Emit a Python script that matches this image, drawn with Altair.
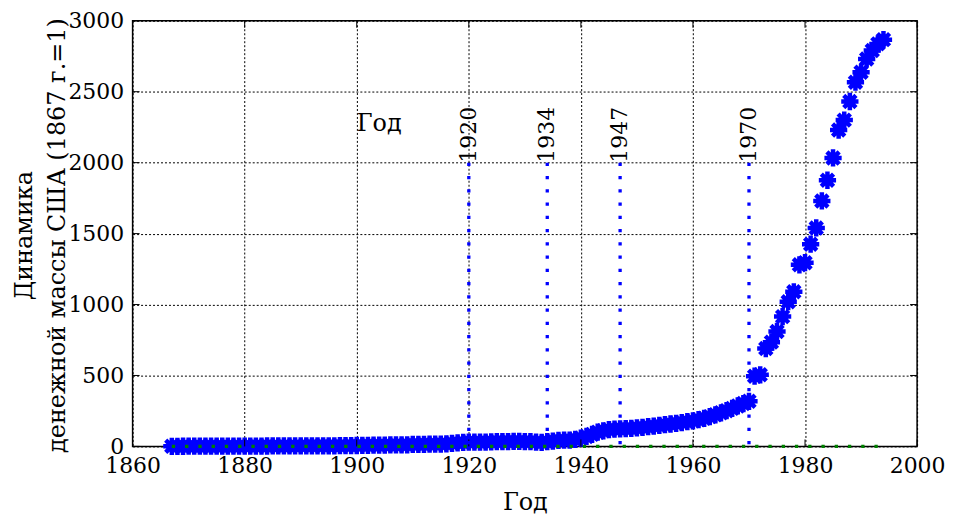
import altair as alt
import pandas as pd

# ---------------- data ----------------
years = list(range(1867, 1995))
money = [
    1, 1.1, 1.2, 1.3, 1.4, 1.5, 1.6, 1.6, 1.7, 1.7, 1.8, 1.8, 1.9,          # 1867-1879
    2.1, 2.4, 2.6, 2.8, 2.9, 3.0, 3.2, 3.4, 3.5, 3.7,                      # 1880-1889
    3.9, 4.1, 4.4, 4.3, 4.3, 4.5, 4.6, 4.9, 5.4, 6.0,                      # 1890-1899
    6.5, 7.2, 7.8, 8.3, 8.6, 9.3, 10.1, 10.6, 10.8, 11.6,                  # 1900-1909
    14, 14.5, 15, 15.5, 16, 16.5, 18, 22, 25, 28,                          # 1910-1919
    31, 30, 30, 31, 32, 33, 34, 34, 35, 35,                                # 1920-1929
    34, 33, 30, 28, 33, 38, 42, 44, 45, 50,                                # 1930-1939
    58, 70, 85, 100, 110, 118, 122, 124, 125, 127,                         # 1940-1949
    130, 134, 139, 143, 148, 153, 158, 163, 168, 174,                      # 1950-1959
    180, 188, 198, 210, 223, 237, 252, 268, 285, 302,                      # 1960-1969
    318, 495, 505, 690, 735, 810, 915, 1020, 1090, 1280,                   # 1970-1979
    1295, 1425, 1540, 1730, 1876, 2033, 2230, 2300, 2431, 2567,            # 1980-1989
    2637, 2731, 2790, 2837, 2867,                                          # 1990-1994
]
event_years = [1920, 1934, 1947, 1970]
event_labels = ["1920", "1934", "1947", "1970"]
event_top = 2000
base_value = 1
x_ticks = [1860, 1880, 1900, 1920, 1940, 1960, 1980, 2000]
y_ticks = [0, 500, 1000, 1500, 2000, 2500, 3000]
x_title = "Год"
y_title = ["Динамика", "денежной массы США (1867 г.=1)"]
annot_text = ["Год"]
annot_year = [1900]
annot_value = [2225]

# ---------------- styling ----------------
FONT = "DejaVu Serif"
W, H = 787, 427
BLUE = "#0000ff"
GREEN = "#008000"
ASTER = "M0,-1L0,1M-1,0L1,0M-0.71,-0.71L0.71,0.71M-0.71,0.71L0.71,-0.71"

df = pd.DataFrame({"year": years, "value": money})
ev = pd.DataFrame({"year": event_years, "top": [event_top] * len(event_years),
                   "bottom": [0] * len(event_years), "label": event_labels})
base_df = pd.DataFrame({"year": [years[0], years[-1]], "value": [base_value, base_value]})
ann = pd.DataFrame({"year": annot_year, "value": annot_value, "text": annot_text})
xt = pd.DataFrame({"t": x_ticks})
yt = pd.DataFrame({"t": y_ticks})

xs = alt.Scale(domain=[1860, 2000], nice=False, zero=False)
ys = alt.Scale(domain=[0, 3000], nice=False)

xaxis = alt.Axis(values=x_ticks, format="d", title=x_title, grid=True, ticks=False,
                 domain=False, labelFlush=False, labelFontSize=22, labelFont=FONT,
                 labelColor="black", labelPadding=9, titleFont=FONT, titleFontSize=24,
                 titleFontWeight="normal", titleColor="black", titleY=63,
                 titleBaseline="alphabetic")
yaxis = alt.Axis(values=y_ticks, format="d", title=y_title, grid=True, ticks=False,
                 domain=False, labelFlush=False, labelFontSize=22, labelFont=FONT,
                 labelColor="black", labelPadding=9, titleFont=FONT, titleFontSize=24,
                 titleFontWeight="normal", titleColor="black", titleAngle=270,
                 titleX=-101, titleY=215, titleBaseline="alphabetic",
                 titleAlign="center", titleLineHeight=33)

points = alt.Chart(df).mark_point(shape=ASTER, size=300, filled=False,
                                  strokeWidth=4.5, color=BLUE, opacity=1).encode(
    x=alt.X("year:Q", scale=xs, axis=xaxis),
    y=alt.Y("value:Q", scale=ys, axis=yaxis),
)

vlines = alt.Chart(ev).mark_rule(color=BLUE, strokeWidth=3.3, strokeDash=[3.3, 10]).encode(
    x=alt.X("year:Q", scale=xs), y=alt.Y("top:Q", scale=ys), y2="bottom:Q"
)

vlabels = alt.Chart(ev).mark_text(angle=270, align="left", baseline="middle",
                                  fontSize=22, font=FONT, color="black").encode(
    x=alt.X("year:Q", scale=xs), y=alt.Y("top:Q", scale=ys), text="label:N"
)

baseline = alt.Chart(base_df).mark_line(color=GREEN, strokeWidth=3.3,
                                        strokeDash=[3.3, 10]).encode(
    x=alt.X("year:Q", scale=xs), y=alt.Y("value:Q", scale=ys)
)

annot = alt.Chart(ann).mark_text(align="left", baseline="alphabetic", fontSize=24,
                                 font=FONT, color="black").encode(
    x=alt.X("year:Q", scale=xs), y=alt.Y("value:Q", scale=ys), text="text:N"
)

tick_b = alt.Chart(xt).mark_rule(color="black", strokeWidth=1).encode(
    x=alt.X("t:Q", scale=xs), y=alt.value(H), y2=alt.value(H - 7))
tick_t = alt.Chart(xt).mark_rule(color="black", strokeWidth=1).encode(
    x=alt.X("t:Q", scale=xs), y=alt.value(0), y2=alt.value(7))
tick_l = alt.Chart(yt).mark_rule(color="black", strokeWidth=1).encode(
    y=alt.Y("t:Q", scale=ys), x=alt.value(0), x2=alt.value(7))
tick_r = alt.Chart(yt).mark_rule(color="black", strokeWidth=1).encode(
    y=alt.Y("t:Q", scale=ys), x=alt.value(W), x2=alt.value(W - 7))

chart = alt.layer(
    points, tick_b, tick_t, tick_l, tick_r, vlines, vlabels, baseline, annot
).properties(
    width=W, height=H, autosize="none",
    padding={"left": 125, "top": 12, "right": 30, "bottom": 72},
    background="white",
).configure_view(
    stroke="black", strokeWidth=1.5
).configure_axis(
    gridColor="black", gridDash=[2, 2], gridWidth=1, gridOpacity=1
).configure_text(font=FONT)

chart.save("out.html", embed_options={"renderer": "svg", "actions": False})
